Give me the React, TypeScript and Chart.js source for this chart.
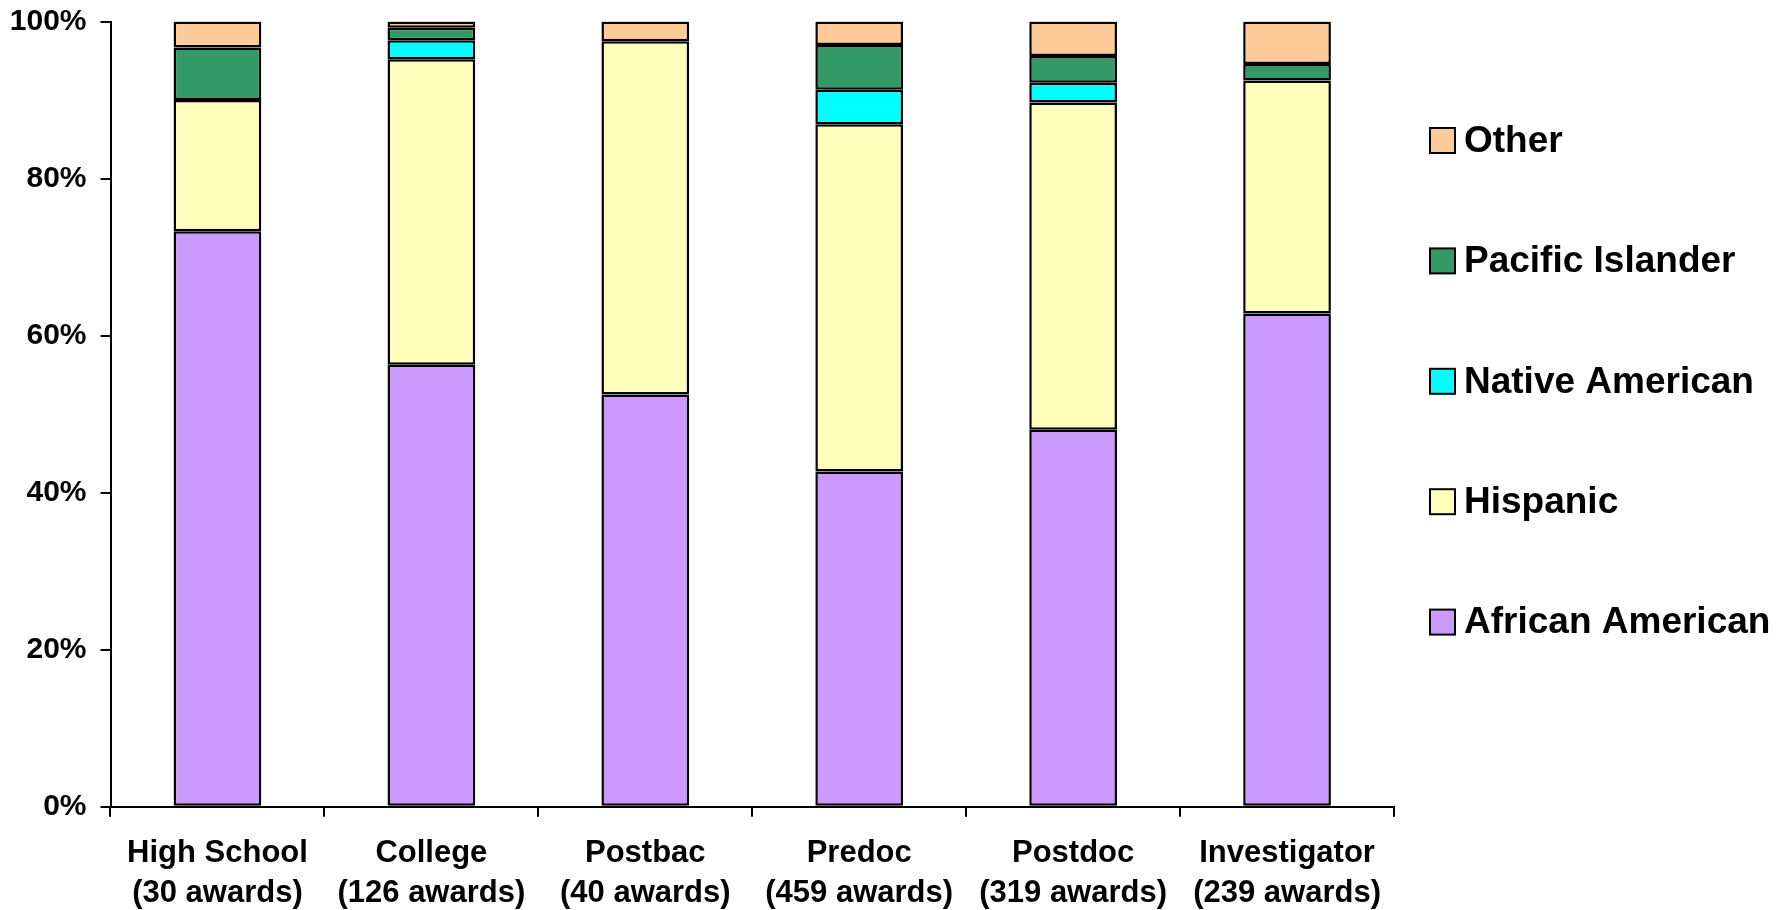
import React, { useEffect, useRef } from "react";
import { Chart, registerables } from "chart.js";

Chart.register(...registerables);

const categories: string[][] = [
  ["High School", "(30 awards)"],
  ["College", "(126 awards)"],
  ["Postbac", "(40 awards)"],
  ["Predoc", "(459 awards)"],
  ["Postdoc", "(319 awards)"],
  ["Investigator", "(239 awards)"],
];

const africanAmerican = [73.3, 56.3, 52.5, 42.7, 48.0, 62.8];
const hispanic = [16.7, 38.9, 45.0, 44.2, 41.7, 29.7];
const nativeAmerican = [0, 2.4, 0, 4.4, 2.5, 0];
const pacificIslander = [6.7, 1.6, 0, 5.7, 3.4, 2.1];
const other = [3.3, 0.8, 2.5, 3.0, 4.4, 5.4];

const seriesNames = ["African American", "Hispanic", "Native American", "Pacific Islander", "Other"];
const seriesColors = ["#CC99FF", "#FFFFBB", "#00FFFF", "#339966", "#FFCC99"];
const yTicks = [0, 20, 40, 60, 80, 100];

const FONT = "'Liberation Sans', Arial, Helvetica, sans-serif";

const legendPlugin = {
  id: "customLegend",
  afterDraw(chart: any) {
    const ctx = chart.ctx;
    const ds = chart.data.datasets.slice().reverse();
    const x = 1430;
    const size = 25;
    const top = 140.5;
    const step = 120.4;
    ctx.save();
    ctx.font = `bold 37px ${FONT}`;
    ctx.textBaseline = "middle";
    ctx.textAlign = "left";
    ds.forEach((d: any, i: number) => {
      const cy = top + i * step;
      ctx.fillStyle = d.backgroundColor;
      ctx.fillRect(x, cy - size / 2, size, size);
      ctx.lineWidth = 2;
      ctx.strokeStyle = "#000";
      ctx.strokeRect(x, cy - size / 2, size, size);
      ctx.fillStyle = "#000";
      ctx.fillText(d.label, x + 34, cy + 1);
    });
    ctx.restore();
  },
};

export default function App() {
  const ref = useRef<HTMLCanvasElement | null>(null);
  useEffect(() => {
    if (!ref.current) return;
    const values = [africanAmerican, hispanic, nativeAmerican, pacificIslander, other];
    const chart = new Chart(ref.current, {
      type: "bar",
      data: {
        labels: categories,
        datasets: seriesNames.map((name, i) => ({
          label: name,
          data: values[i],
          backgroundColor: seriesColors[i],
          borderColor: "#000",
          borderWidth: 2.5,
          borderSkipped: false,
          categoryPercentage: 1,
          barPercentage: 0.41,
        })),
      },
      options: {
        animation: false,
        responsive: true,
        maintainAspectRatio: false,
        layout: { padding: { left: 0, right: 390, top: 21.5, bottom: 0 } },
        plugins: {
          legend: { display: false },
          tooltip: { enabled: false },
          title: { display: false },
        },
        scales: {
          x: {
            stacked: true,
            afterFit: (s: any) => {
              s.height = 103.3;
            },
            grid: {
              offset: true,
              drawOnChartArea: false,
              drawTicks: true,
              tickLength: 10,
              color: "#000",
              lineWidth: 2,
            },
            border: { display: true, color: "#000", width: 2 },
            ticks: {
              color: "#000",
              padding: 17,
              maxRotation: 0,
              autoSkip: false,
              font: { family: FONT, size: 31, weight: "bold", lineHeight: 1.28 },
            },
          },
          y: {
            stacked: true,
            min: 0,
            max: 100,
            afterFit: (s: any) => {
              s.width = 110.5;
              s.paddingTop = 0;
              s.paddingBottom = 0;
            },
            afterBuildTicks: (s: any) => {
              s.ticks = yTicks.map((v) => ({ value: v }));
            },
            grid: {
              drawOnChartArea: false,
              drawTicks: true,
              tickLength: 10,
              color: "#000",
              lineWidth: 2,
            },
            border: { display: true, color: "#000", width: 2 },
            ticks: {
              color: "#000",
              padding: 14,
              callback: (v: any) => `${v}%`,
              font: { family: FONT, size: 30, weight: "bold", lineHeight: 1 },
            },
          },
        },
      },
      plugins: [legendPlugin],
    });
    return () => chart.destroy();
  }, []);
  return (
    <div style={{ position: "fixed", left: 0, top: 0, width: 1784, height: 910, background: "#fff" }}>
      <canvas ref={ref} />
    </div>
  );
}
